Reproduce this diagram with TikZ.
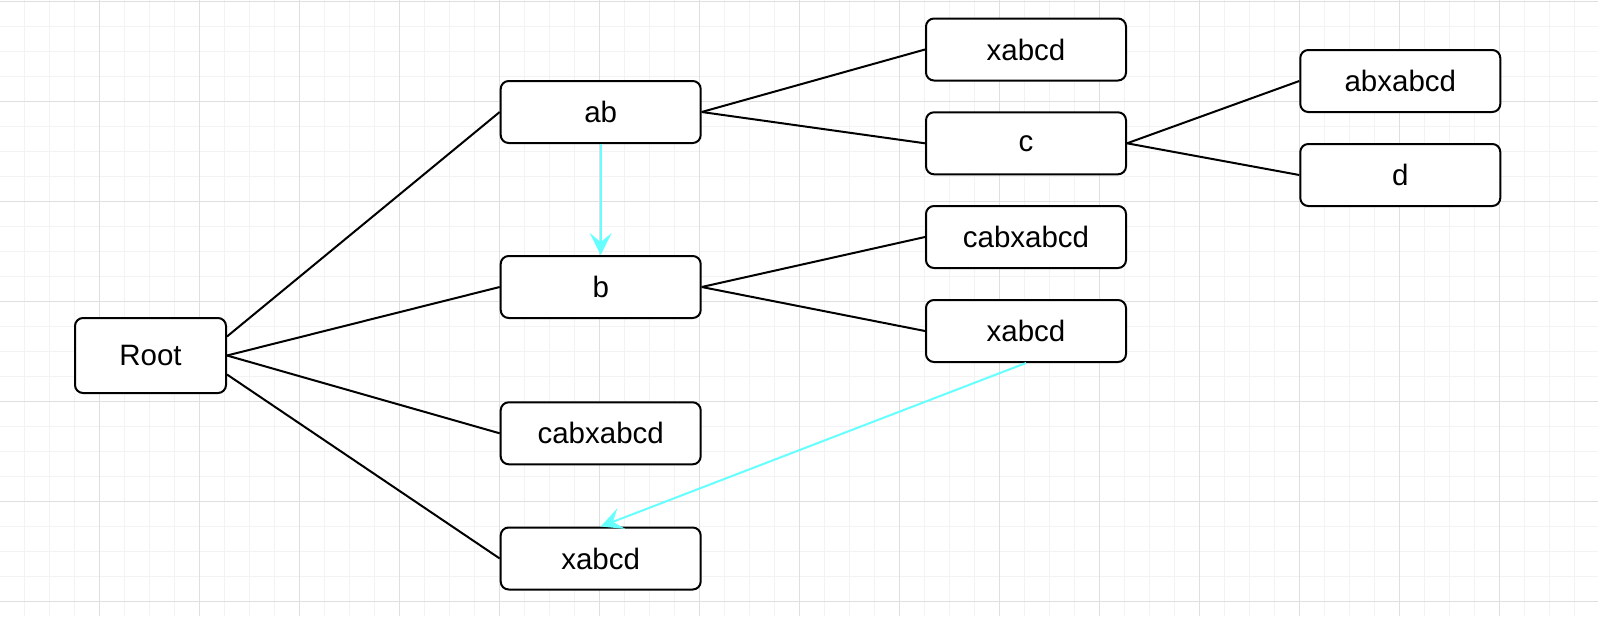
\documentclass[tikz,border=0pt]{standalone}
\usepackage{fontspec}
\setmainfont{Liberation Sans}
\usetikzlibrary{arrows.meta}
\definecolor{cy}{HTML}{66FFFF}
\definecolor{gminor}{HTML}{F3F3F3}
\definecolor{gmajor}{HTML}{DFDFDF}
\begin{document}
\begin{tikzpicture}[x=1pt,y=-1pt,
  box/.style={draw=black, line width=2pt, rounded corners=8pt, fill=white,
    minimum width=200pt, minimum height=62pt, inner sep=0pt,
    font=\fontsize{29.5}{34}\selectfont},
  link/.style={draw=black, line width=2pt},
  hop/.style={draw=cy, line width=2pt, -{Stealth[length=22pt,width=22pt,inset=9pt]}},
  minorgrid/.style={draw=gminor, line width=1pt},
  majorgrid/.style={draw=gmajor, line width=1pt}]
\useasboundingbox (0,0) rectangle (1598,616);
\fill[white] (0,0) rectangle (1598,616);
\foreach \i in {0,...,64} \draw[minorgrid] ({\i*25-0.5},0) -- ({\i*25-0.5},616);
\foreach \j in {0,...,24} \draw[minorgrid] (0,{\j*25+1}) -- (1598,{\j*25+1});
\foreach \i in {1,...,15} \draw[majorgrid] ({\i*100-0.5},0) -- ({\i*100-0.5},616);
\foreach \j in {0,...,6} \draw[majorgrid] (0,{\j*100+1}) -- (1598,{\j*100+1});

\node[box, minimum width=151pt, minimum height=75pt] (root) at (150.5,355.5) {Root};
\node[box] (ab) at (600.7,112) {ab};
\node[box] (b) at (600.7,287) {b};
\node[box] (cabl) at (600.7,433.3) {cabxabcd};
\node[box] (xl) at (600.7,558.5) {xabcd};
\node[box] (xt) at (1026,49.5) {xabcd};
\node[box] (c) at (1026,143.3) {c};
\node[box] (cabm) at (1026,237) {cabxabcd};
\node[box] (xm) at (1026,331) {xabcd};
\node[box] (abx) at (1400.3,81) {abxabcd};
\node[box] (d) at (1400.3,175) {d};

\coordinate (rtop) at ([yshift=19pt]root.east);
\coordinate (rbot) at ([yshift=-19pt]root.east);

\draw[link] (rtop) -- (ab.west);
\draw[link] (root.east) -- (b.west);
\draw[link] (root.east) -- (cabl.west);
\draw[link] (rbot) -- (xl.west);
\draw[link] (ab.east) -- (xt.west);
\draw[link] (ab.east) -- (c.west);
\draw[link] (c.east) -- (abx.west);
\draw[link] (c.east) -- (d.west);
\draw[link] (b.east) -- (cabm.west);
\draw[link] (b.east) -- (xm.west);

\draw[hop] (ab.south) -- (b.north);
\draw[hop] (xm.south) -- (xl.north);
\end{tikzpicture}
\end{document}
